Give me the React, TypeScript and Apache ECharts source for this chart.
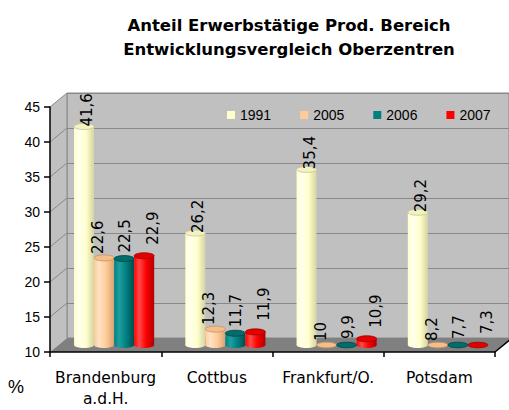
import React, { useEffect, useRef } from "react";
import * as echarts from "echarts";

const titleText = "Anteil Erwerbstätige Prod. Bereich\nEntwicklungsvergleich Oberzentren";
const categories = ["Brandenburg\na.d.H.", "Cottbus", "Frankfurt/O.", "Potsdam"];
const years = ["1991", "2005", "2006", "2007"];
const v1991 = [41.6, 26.2, 35.4, 29.2];
const v2005 = [22.6, 12.3, 10, 8.2];
const v2006 = [22.5, 11.7, 9.9, 7.7];
const v2007 = [22.9, 11.9, 10.9, 7.3];
const seriesValues = [v1991, v2005, v2006, v2007];
const yMin = 10;
const yMax = 45;
const yStep = 5;
const yUnit = "%";

// styles
const seriesColors = ["#FFFFCC", "#FFCC99", "#008080", "#FF0000"];
const shades = [
  { light: "#FFFFEE", base: "#FFFFCC", dark: "#D4D4A2", top: "#F2F2C2", edge: "#C4C494" },
  { light: "#FFE2C4", base: "#FFCC99", dark: "#D6A272", top: "#F2BE8C", edge: "#C8925E" },
  { light: "#1E9E9E", base: "#008080", dark: "#004E4E", top: "#006C6C", edge: "#004444" },
  { light: "#FF4A4A", base: "#FF0000", dark: "#B00000", top: "#E20000", edge: "#A00000" },
];
const labelDx = [3, -6, 1, 9];
const labelDy = [4, 0, -2, -7];

// frame geometry
const FX = 50;
const FTOP = 107;
const FBOT = 352;
const FW = 445;
const DX = 17;
const DY = 14;

const fmt = (v: number) => String(v).replace(".", ",");
const yF = (t: number) => FBOT - ((t - yMin) / (yMax - yMin)) * (FBOT - FTOP);

function makeRender(s: number) {
  return (params: any, api: any) => {
    const cat = api.value(0);
    const v = api.value(1);
    const base = api.coord([cat, yMin]);
    const top = api.coord([cat, Math.max(v, yMin)]);
    const band = api.size([1, 0])[0];
    const w = band * 0.18;
    const cx = base[0] + (s - 1.5) * w;
    const rx = w / 2;
    const ry = 3;
    const sh = shades[s];
    const grad = {
      type: "linear",
      x: 0,
      y: 0,
      x2: 1,
      y2: 0,
      colorStops: [
        { offset: 0, color: sh.base },
        { offset: 0.25, color: sh.light },
        { offset: 0.6, color: sh.base },
        { offset: 1, color: sh.dark },
      ],
    };
    const children: any[] = [];
    if (v > yMin) {
      children.push({ type: "ellipse", shape: { cx, cy: base[1], rx, ry }, style: { fill: grad } });
      children.push({
        type: "rect",
        shape: { x: cx - rx, y: top[1], width: w, height: base[1] - top[1] },
        style: { fill: grad },
      });
      children.push({
        type: "ellipse",
        shape: { cx, cy: top[1], rx, ry },
        style: { fill: sh.top, stroke: sh.edge, lineWidth: 0.8 },
      });
    } else {
      children.push({
        type: "ellipse",
        shape: { cx, cy: base[1], rx, ry: 2.8 },
        style: { fill: sh.top, stroke: sh.edge, lineWidth: 0.8 },
      });
    }
    children.push({
      type: "text",
      x: cx + labelDx[s],
      y: top[1] - 4 + labelDy[s],
      rotation: Math.PI / 2,
      style: {
        text: fmt(v),
        fill: "#000",
        fontSize: 15,
        fontFamily: "DejaVu Sans",
        align: "left",
        verticalAlign: "middle",
      },
    });
    return { type: "group", children };
  };
}

export default function App() {
  const ref = useRef<HTMLDivElement>(null);
  useEffect(() => {
    if (!ref.current) return;
    const chart = echarts.init(ref.current, undefined, { renderer: "svg" });
    const ticks: number[] = [];
    for (let t = yMin + yStep; t <= yMax; t += yStep) ticks.push(t);

    const graphics: any[] = [
      {
        type: "polygon",
        z: 1,
        shape: { points: [[FX, FTOP], [FX + DX, FTOP - DY], [FX + DX, FBOT - DY], [FX, FBOT]] },
        style: { fill: "#C0C0C0" },
      },
      {
        type: "polygon",
        z: 1,
        shape: { points: [[FX, FBOT], [FX + DX, FBOT - DY], [FX + FW + DX, FBOT - DY], [FX + FW, FBOT]] },
        style: { fill: "#808080" },
      },
      {
        type: "line",
        z: 3,
        shape: { x1: FX + FW, y1: FBOT, x2: FX + FW + DX, y2: FBOT - DY },
        style: { stroke: "#000", lineWidth: 1.5 },
      },
      ...ticks.map((t) => ({
        type: "line",
        z: 2,
        shape: { x1: FX, y1: yF(t), x2: FX + DX, y2: yF(t) - DY },
        style: { stroke: "#888", lineWidth: 1 },
      })),
      {
        type: "line",
        z: 2,
        shape: { x1: FX + DX, y1: FTOP - DY, x2: FX + DX, y2: FBOT - DY },
        style: { stroke: "#888", lineWidth: 1 },
      },
      {
        type: "text",
        left: 8,
        top: 378,
        style: { text: yUnit, fontSize: 18, fontFamily: "Liberation Sans", fill: "#000" },
      },
    ];

    chart.setOption({
      animation: false,
      backgroundColor: "#fff",
      color: seriesColors,
      title: {
        text: titleText,
        left: 284,
        top: 8,
        textAlign: "center",
        textStyle: {
          fontFamily: "DejaVu Sans",
          fontWeight: "bold",
          fontSize: 16.5,
          lineHeight: 24,
          color: "#000",
        },
      },
      legend: {
        data: years,
        left: 222,
        top: 103,
        itemWidth: 8,
        itemHeight: 8,
        itemGap: 29,
        icon: "rect",
        textStyle: { fontFamily: "Liberation Sans", fontSize: 14, color: "#000" },
      },
      grid: [
        { left: FX, top: FTOP, width: FW, height: FBOT - FTOP },
        {
          left: FX + DX,
          top: FTOP - DY,
          width: FW,
          height: FBOT - FTOP,
          show: true,
          backgroundColor: "#C0C0C0",
          borderColor: "#888",
          borderWidth: 1,
        },
        { left: FX + 8.5, top: 103, width: FW, height: 242 },
      ],
      xAxis: [
        {
          gridIndex: 0,
          type: "category",
          data: categories,
          z: 3,
          axisLine: { lineStyle: { color: "#000", width: 1.5 } },
          axisTick: { show: true, length: 5, lineStyle: { color: "#000", width: 1.5 } },
          axisLabel: {
            interval: 0,
            margin: 15,
            fontFamily: "DejaVu Sans",
            fontSize: 15.5,
            lineHeight: 21,
            color: "#000",
          },
        },
        { gridIndex: 1, type: "category", data: categories, show: false },
        { gridIndex: 2, type: "category", data: categories, show: false },
      ],
      yAxis: [
        {
          gridIndex: 0,
          type: "value",
          min: yMin,
          max: yMax,
          interval: yStep,
          z: 3,
          axisLine: { show: true, lineStyle: { color: "#000", width: 1.5 } },
          axisTick: { show: true, length: 6, lineStyle: { color: "#000", width: 1.5 } },
          axisLabel: {
            margin: 10,
            fontFamily: "Liberation Sans",
            fontSize: 14,
            color: "#000",
            padding: [5, 0, 0, 0],
          },
          splitLine: { show: false },
        },
        {
          gridIndex: 1,
          type: "value",
          min: yMin,
          max: yMax,
          interval: yStep,
          axisLine: { show: false },
          axisTick: { show: false },
          axisLabel: { show: false },
          splitLine: { show: true, lineStyle: { color: "#888", width: 1 } },
        },
        {
          gridIndex: 2,
          type: "value",
          min: yMin,
          max: yMax,
          interval: yStep,
          show: false,
        },
      ],
      graphic: graphics,
      series: years.map((y, s) => ({
        name: y,
        type: "custom",
        xAxisIndex: 2,
        yAxisIndex: 2,
        z: 5,
        clip: false,
        itemStyle: { color: seriesColors[s] },
        encode: { x: 0, y: 1 },
        data: seriesValues[s].map((v, i) => [i, v]),
        renderItem: makeRender(s),
      })),
    });
    return () => chart.dispose();
  }, []);
  return (
    <div
      ref={ref}
      style={{ position: "absolute", left: 0, top: 0, width: 509, height: 410 }}
    />
  );
}
